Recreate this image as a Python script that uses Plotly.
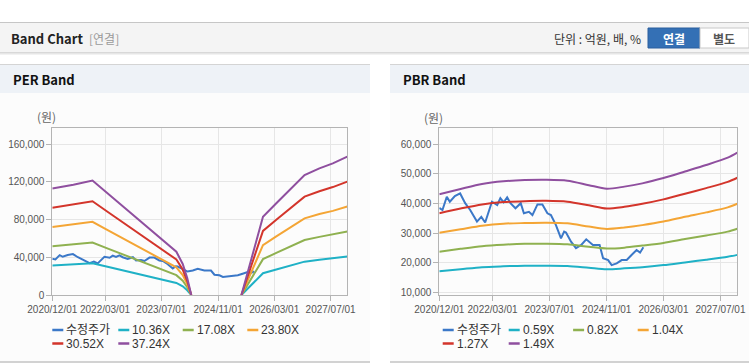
import plotly.graph_objects as go

W, H = 749, 364

# ------------------------------------------------------------------ data
price_dates = ['2020-12-01', '2020-12-07', '2020-12-28', '2021-02-03', '2021-03-01', '2021-04-13',
               '2021-05-28', '2021-07-10', '2021-08-22', '2021-10-19', '2021-11-25', '2021-12-28',
               '2022-02-24', '2022-04-10', '2022-05-07', '2022-06-04', '2022-07-04', '2022-08-01',
               '2022-09-13', '2022-10-28', '2022-11-24', '2023-01-06', '2023-02-05', '2023-03-20',
               '2023-05-01', '2023-06-13', '2023-07-13', '2023-08-25', '2023-10-07', '2023-11-03',
               '2023-11-19', '2024-01-01', '2024-02-12', '2024-03-28', '2024-05-10', '2024-07-06',
               '2024-09-01', '2024-10-01', '2024-11-13', '2024-12-13', '2025-01-25', '2025-03-09',
               '2025-04-21', '2025-06-01', '2025-07-14', '2025-08-13', '2025-09-10']
price_values = [38500, 38400, 37800, 42300, 40600, 42500,
                43400, 40100, 37800, 33900, 35500, 33600,
                40600, 39500, 41800, 40400, 42100, 40100,
                38400, 40100, 36700, 37200, 36100, 39700,
                39700, 36700, 36100, 32700, 28200, 30500,
                30200, 27100, 24900, 26000, 27900, 26000,
                26000, 21500, 20900, 19200, 19800, 20900,
                20900, 22600, 24300, 23400, 25200]

per_dates = ['2020-12-01', '2021-06-01', '2021-11-13', '2022-04-01', '2022-10-01', '2023-04-01',
             '2023-11-07', '2024-01-01', '2024-02-09', '2024-03-15', '2024-10-01', '2025-05-22',
             '2025-08-16', '2025-11-24', '2026-03-19', '2026-07-10', '2026-11-18', '2027-03-26',
             '2027-07-20', '2027-11-22']
per_1036 = [31400, 32500, 33800, 29700, 24500, 19200, 12800, 9200, 5000, 0, None, 0,
            10800, 23100, 27100, 31000, 35400, 37400, 38900, 40900]
per_1708 = [51800, 53700, 55700, 49000, 40300, 31600, 21100, 15100, 8300, 0, None, 0,
            17900, 38100, 44700, 51100, 58400, 61700, 64100, 67400]
per_2380 = [72200, 74800, 77700, 68300, 56200, 44000, 29400, 21100, 11500, 0, None, 0,
            24900, 53000, 62200, 71300, 81400, 86000, 89300, 93900]
per_3052 = [92600, 95900, 99600, 87600, 72000, 56500, 37700, 27000, 14800, 0, None, 0,
            32000, 68000, 79800, 91400, 104400, 110200, 114600, 120400]
per_3724 = [113000, 117000, 121500, 106900, 87900, 68900, 46000, 33000, 18000, 0, None, 0,
            39000, 83000, 97400, 111500, 127400, 134500, 139800, 146900]
per_names = ['수정주가', '10.36X', '17.08X', '23.80X', '30.52X', '37.24X']

pbr_dates = ['2020-12-01', '2021-06-01', '2021-12-01', '2022-06-01', '2022-12-01', '2023-06-01',
             '2023-12-01', '2024-06-01', '2024-11-01', '2025-04-01', '2025-09-01', '2026-03-01',
             '2026-09-01', '2027-03-01', '2027-09-01', '2027-11-22']
pbr_059 = [17100, 17800, 18500, 18800, 19000, 19000, 18900, 18300, 17800, 18100, 18500, 19200,
           20100, 21000, 22000, 22650]
pbr_082 = [23700, 24700, 25600, 26100, 26400, 26400, 26200, 25400, 24800, 25100, 25800, 26700,
           28000, 29200, 30500, 31500]
pbr_104 = [30100, 31300, 32500, 33200, 33400, 33500, 33300, 32200, 31400, 31900, 32700, 33900,
           35500, 37000, 38700, 39900]
pbr_127 = [36700, 38300, 39700, 40500, 40800, 40900, 40600, 39400, 38300, 38900, 39900, 41400,
           43300, 45200, 47300, 48700]
pbr_149 = [43100, 44900, 46600, 47500, 47900, 48000, 47700, 46200, 45000, 45700, 46800, 48600,
           50800, 53000, 55500, 57200]
pbr_names = ['수정주가', '0.59X', '0.82X', '1.04X', '1.27X', '1.49X']

x_tick_vals = ['2020-12-01', '2022-03-01', '2023-07-01', '2024-11-01', '2026-03-01', '2027-07-01']
x_tick_text = ['2020/12/01', '2022/03/01', '2023/07/01', '2024/11/01', '2026/03/01', '2027/07/01']
per_y_ticks = [0, 40000, 80000, 120000, 160000]
pbr_y_ticks = [10000, 20000, 30000, 40000, 50000, 60000]

colors = ['#3b78c8', '#1fb1c6', '#8fb150', '#f4a535', '#d3352b', '#8f4f9f']

# ------------------------------------------------------------------ helpers (positions)
def px(x):
    return x / W

def py(y):
    return 1 - y / H

NUM_FONT = 'Liberation Sans, Noto Sans CJK KR, sans-serif'
KR_FONT = 'Noto Sans CJK KR, Liberation Sans, sans-serif'

fig = go.Figure()

per_series = [price_values, per_1036, per_1708, per_2380, per_3052, per_3724]
pbr_series = [price_values, pbr_059, pbr_082, pbr_104, pbr_127, pbr_149]

for i, (name, vals) in enumerate(zip(per_names, per_series)):
    xs = price_dates if i == 0 else per_dates
    fig.add_trace(go.Scatter(x=xs, y=vals, name=name, mode='lines', xaxis='x', yaxis='y',
                             line=dict(color=colors[i], width=2), connectgaps=False,
                             showlegend=False, hoverinfo='skip'))
for i, (name, vals) in enumerate(zip(pbr_names, pbr_series)):
    xs = price_dates if i == 0 else pbr_dates
    fig.add_trace(go.Scatter(x=xs, y=vals, name=name, mode='lines', xaxis='x2', yaxis='y2',
                             line=dict(color=colors[i], width=2,
                                       shape='linear' if i == 0 else 'spline', smoothing=0.8),
                             showlegend=False, hoverinfo='skip'))

axis_common = dict(showgrid=True, gridcolor='#e6e6e6', gridwidth=1, showline=True,
                   linecolor='#b4b4b4', linewidth=1, mirror=True, ticks='outside', ticklen=5,
                   tickcolor='#b4b4b4', zeroline=False, tickangle=0, automargin=False,
                   tickfont=dict(family=NUM_FONT, size=10, color='#555'))

y_dom = [py(295), py(128.3)]
x_range = ['2020-12-01', '2027-11-22']

fig.update_layout(
    width=W, height=H, margin=dict(l=0, r=0, t=0, b=0, pad=0), autosize=False,
    paper_bgcolor='white', plot_bgcolor='white', showlegend=False,
    xaxis=dict(domain=[px(52.3), px(347.3)], type='date', range=x_range, anchor='y',
               tickvals=x_tick_vals, ticktext=x_tick_text, **axis_common),
    yaxis=dict(domain=y_dom, range=[0, 177000], anchor='x', tickvals=per_y_ticks,
               tickformat=',', **axis_common),
    xaxis2=dict(domain=[px(439.3), px(737.3)], type='date', range=x_range, anchor='y2',
                tickvals=x_tick_vals, ticktext=x_tick_text, **axis_common),
    yaxis2=dict(domain=y_dom, range=[9100, 65400], anchor='x2', tickvals=pbr_y_ticks,
                tickformat=',', **axis_common),
)

shapes = []
ann = []

def rect(x0, y0, x1, y1, fill, line=None, layer='below'):
    shapes.append(dict(type='rect', xref='paper', yref='paper', x0=px(x0), x1=px(x1),
                       y0=py(y1), y1=py(y0), fillcolor=fill, layer=layer,
                       line=dict(width=1 if line else 0, color=line or fill)))

def hline(x0, x1, y, color, width=1, layer='below'):
    shapes.append(dict(type='line', xref='paper', yref='paper', x0=px(x0), x1=px(x1),
                       y0=py(y), y1=py(y), layer=layer, line=dict(color=color, width=width)))

def text(x, y, s, size=12, color='#333', family=KR_FONT, xanchor='left'):
    ann.append(dict(xref='paper', yref='paper', x=px(x), y=py(y), text=s, showarrow=False,
                    xanchor=xanchor, yanchor='middle',
                    font=dict(size=size, color=color, family=family)))

# header
rect(0, 22, 749, 52, '#f4f4f4')
hline(0, 749, 22.5, '#c6c6c6')
hline(0, 749, 52.5, '#d8d8d8')
hline(0, 749, 53.5, '#e6e6e6')
hline(0, 749, 54.5, '#f2f2f2')
text(9, 38.5, '<b>Band Chart</b>', size=13, color='#222')
text(87, 39, '[연결]', size=12, color='#9a9a9a')
text(643, 39, '단위 : 억원, 배, %', size=12, color='#333', xanchor='right')
rect(648, 28, 700, 48, '#3470b5', line='#2b5f9e', layer='above')
rect(700, 28, 749, 48, '#ffffff', line='#c8c8c8', layer='above')
text(674, 38.5, '<b>연결</b>', size=12, color='#ffffff', xanchor='center')
text(724, 38.5, '<b>별도</b>', size=12, color='#555555', xanchor='center')

# panels
for (x0, x1, title) in [(0, 370, 'PER Band'), (390, 749, 'PBR Band')]:
    rect(x0, 64, x1, 93, '#eef2f7')
    hline(x0, x1, 64.5, '#d4d4d4')
    rect(x0, 93, x1, 362, '#fcfcfc')
    hline(x0, x1, 362, '#d2d2d2', width=2)
    text(x0 + 11, 79, '<b>' + title + '</b>', size=13, color='#111')

text(35, 117, '(원)', size=12, color='#666')
text(422, 118, '(원)', size=12, color='#666')

# legends
col_off = [0, 66, 130.4, 195]
for left, names in [(52.3, per_names), (442.7, pbr_names)]:
    for i, name in enumerate(names):
        row, col = divmod(i, 4)
        yy = 330 if row == 0 else 343.5
        xx = left + col_off[col]
        hline(xx, xx + 11, yy, colors[i], width=2.5, layer='above')
        text(xx + 12, yy, name, size=12, color='#333', family=NUM_FONT)

fig.update_layout(shapes=shapes, annotations=ann)

fig.write_html('out.html', config={'displayModeBar': False},
               post_script="document.body.style.margin='0';document.body.style.overflow='hidden';")
